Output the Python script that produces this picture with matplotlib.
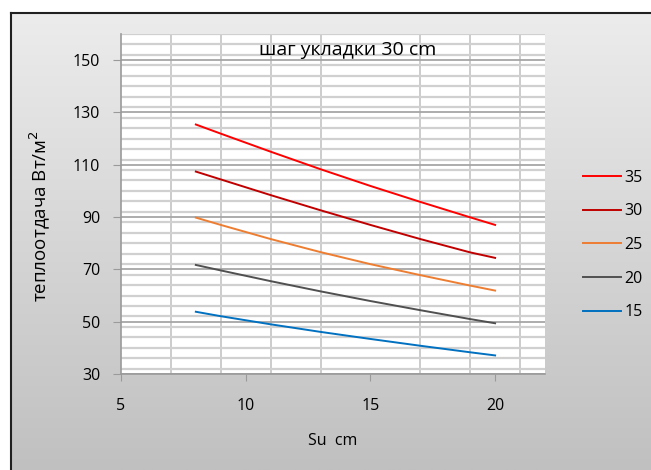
import matplotlib.pyplot as plt
import numpy as np
from matplotlib.colors import LinearSegmentedColormap
from matplotlib.ticker import MultipleLocator, FixedLocator

plt.rcParams['font.family'] = ['Open Sans', 'DejaVu Sans']

# --- данные ---
su_cm = [8, 9, 11, 13, 15, 17, 19, 20]
series_names = ['35', '30', '25', '20', '15']
q_35 = [125.4, 121.9, 115.0, 108.3, 101.9, 95.8, 89.9, 87.0]
q_30 = [107.4, 104.4, 98.4, 92.6, 87.0, 81.6, 76.5, 74.4]
q_25 = [89.8, 87.0, 81.6, 76.6, 72.0, 67.8, 63.8, 61.9]
q_20 = [71.7, 69.6, 65.5, 61.6, 57.9, 54.4, 51.0, 49.4]
q_15 = [53.8, 52.1, 49.0, 46.1, 43.4, 40.8, 38.3, 37.1]
x_ticks = [5, 10, 15, 20]
y_ticks = [30, 50, 70, 90, 110, 130, 150]

colors = ['#ff0000', '#c00000', '#ed7d31', '#505050', '#0070c0']

fig = plt.figure(figsize=(6.51, 4.70), dpi=100)

# --- фон с градиентом и рамкой ---
bg = fig.add_axes([0, 0, 1, 1])
bg.set_xlim(0, 651)
bg.set_ylim(470, 0)
bg.axis('off')
grad = np.linspace(0, 1, 256).reshape(-1, 1)
bg.imshow(grad, cmap=LinearSegmentedColormap.from_list('g', ['#ececec', '#c0c0c0']),
          extent=[11, 651, 470, 13], aspect='auto')
bg.plot([11, 651], [13, 13], color='#202020', lw=1.5)
bg.plot([11, 11], [13, 470], color='#202020', lw=1.5)

# --- основной график ---
ax = fig.add_axes([121 / 651, 96 / 470, 424 / 651, 340 / 470])
ax.set_facecolor('white')
for name, vals, c in zip(series_names, [q_35, q_30, q_25, q_20, q_15], colors):
    ax.plot(su_cm, vals, color=c, lw=1.4, label=name)

ax.set_xlim(5, 22)
ax.set_ylim(30, 160)
ax.xaxis.set_major_locator(FixedLocator(x_ticks))
ax.xaxis.set_minor_locator(FixedLocator(np.arange(7, 22, 2)))
ax.yaxis.set_major_locator(FixedLocator(y_ticks))
ax.yaxis.set_minor_locator(MultipleLocator(4))

ax.grid(True, axis='x', which='minor', color='#c8c8c8', lw=1.3)
ax.grid(True, axis='y', which='minor', color='#d0d0d0', lw=1.6)
ax.grid(True, axis='y', which='major', color='#a6a6a6', lw=1.3)
ax.set_axisbelow(True)

for s in ['top', 'right']:
    ax.spines[s].set_visible(False)
for s in ['left', 'bottom']:
    ax.spines[s].set_color('#9a9a9a')
    ax.spines[s].set_linewidth(1.2)

ax.tick_params(which='minor', length=0)
ax.tick_params(axis='y', which='major', length=6, color='#9a9a9a', pad=9, labelsize=11.5)
ax.tick_params(axis='x', which='major', length=5, color='#9a9a9a', pad=12, labelsize=11.5)

ax.text(14.1, 153.8, 'шаг укладки 30 cm', ha='center', va='center', fontsize=14)

fig.text(40 / 651, 1 - 216 / 470, 'теплоотдача Вт/м$^2$', rotation=90,
         ha='center', va='center', fontsize=13.5)
fig.text(333 / 651, 1 - 441 / 470, 'Su  cm', ha='center', va='center', fontsize=11.5)

ax.legend(loc='center left', bbox_to_anchor=(583 / 651, 1 - 245 / 470),
          bbox_transform=fig.transFigure, frameon=False, fontsize=11.5,
          handlelength=2.4, handletextpad=0.2, labelspacing=1.1,
          borderpad=0, borderaxespad=0)

fig.savefig('out.png', dpi=100)
